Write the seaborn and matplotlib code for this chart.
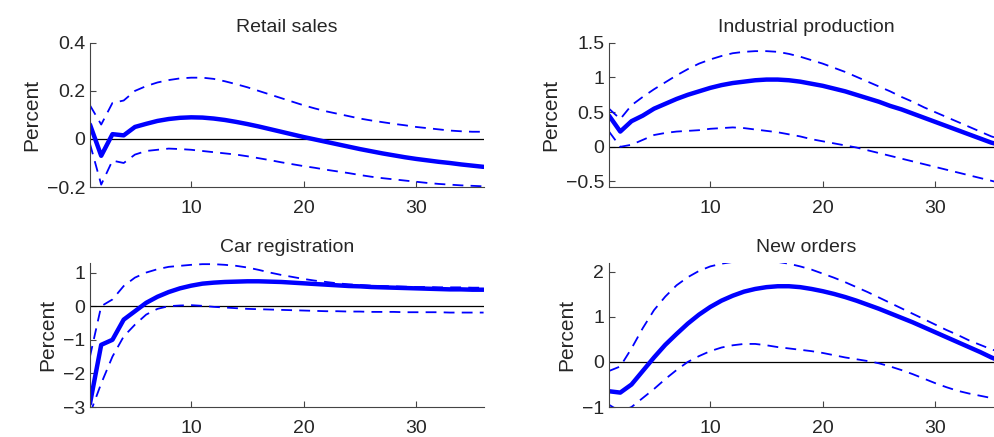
import numpy as np
import pandas as pd
import seaborn as sns
import matplotlib
matplotlib.use('Agg')
import matplotlib.pyplot as plt

horizon = list(range(1, 37))

retail_mid = [0.06, -0.07, 0.02, 0.015, 0.05, 0.063, 0.075, 0.083, 0.088, 0.09, 0.089, 0.085,
              0.079, 0.071, 0.062, 0.052, 0.041, 0.03, 0.019, 0.008, -0.002, -0.012, -0.022, -0.032,
              -0.042, -0.051, -0.06, -0.068, -0.076, -0.083, -0.089, -0.095, -0.1, -0.106, -0.111, -0.116]
retail_hi = [0.14, 0.06, 0.15, 0.16, 0.2, 0.22, 0.235, 0.245, 0.252, 0.255, 0.255, 0.25,
             0.24, 0.228, 0.215, 0.2, 0.185, 0.17, 0.155, 0.14, 0.127, 0.115, 0.105, 0.095,
             0.085, 0.077, 0.07, 0.063, 0.057, 0.05, 0.045, 0.04, 0.035, 0.032, 0.03, 0.03]
retail_lo = [-0.02, -0.19, -0.09, -0.1, -0.065, -0.05, -0.045, -0.04, -0.042, -0.045, -0.05, -0.055,
             -0.06, -0.065, -0.072, -0.08, -0.088, -0.097, -0.105, -0.113, -0.12, -0.128, -0.135, -0.142,
             -0.15, -0.157, -0.163, -0.168, -0.173, -0.178, -0.183, -0.187, -0.19, -0.193, -0.195, -0.197]

ind_mid = [0.45, 0.22, 0.37, 0.45, 0.55, 0.62, 0.69, 0.75, 0.8, 0.85, 0.89, 0.92, 0.94, 0.96, 0.97,
           0.97, 0.96, 0.94, 0.91, 0.88, 0.84, 0.8, 0.75, 0.7, 0.65, 0.59, 0.54, 0.48, 0.42, 0.36,
           0.3, 0.24, 0.18, 0.12, 0.06, 0.02]
ind_hi = [0.55, 0.4, 0.6, 0.72, 0.83, 0.93, 1.03, 1.12, 1.2, 1.26, 1.31, 1.35, 1.37, 1.38, 1.38,
          1.37, 1.34, 1.3, 1.25, 1.2, 1.14, 1.08, 1.01, 0.94, 0.87, 0.8, 0.72, 0.65, 0.57, 0.5,
          0.43, 0.36, 0.29, 0.22, 0.15, 0.1]
ind_lo = [0.22, 0.0, 0.03, 0.1, 0.17, 0.2, 0.22, 0.23, 0.24, 0.26, 0.27, 0.28, 0.27, 0.25, 0.23,
          0.21, 0.18, 0.15, 0.11, 0.08, 0.05, 0.02, -0.01, -0.05, -0.09, -0.13, -0.17, -0.21, -0.25,
          -0.29, -0.33, -0.37, -0.41, -0.45, -0.49, -0.53]

car_mid = [-2.9, -1.15, -1.0, -0.4, -0.15, 0.1, 0.28, 0.42, 0.53, 0.61, 0.67, 0.7, 0.72, 0.73, 0.74,
           0.74, 0.73, 0.72, 0.7, 0.68, 0.66, 0.64, 0.62, 0.6, 0.59, 0.57, 0.56, 0.55, 0.54, 0.53,
           0.52, 0.51, 0.5, 0.5, 0.49, 0.49]
car_hi = [-1.5, 0.0, 0.2, 0.6, 0.85, 1.0, 1.1, 1.17, 1.2, 1.23, 1.25, 1.25, 1.23, 1.2, 1.15, 1.08,
          1.0, 0.93, 0.87, 0.81, 0.76, 0.72, 0.68, 0.65, 0.63, 0.61, 0.6, 0.59, 0.58, 0.57, 0.57,
          0.56, 0.56, 0.56, 0.55, 0.55]
car_lo = [-3.2, -2.3, -1.5, -0.9, -0.55, -0.25, -0.08, 0.0, 0.02, 0.03, 0.01, -0.02, -0.04, -0.06,
          -0.08, -0.09, -0.1, -0.11, -0.12, -0.13, -0.14, -0.15, -0.15, -0.16, -0.16, -0.17, -0.17,
          -0.17, -0.18, -0.18, -0.18, -0.18, -0.19, -0.19, -0.19, -0.19]

ord_mid = [-0.65, -0.68, -0.5, -0.2, 0.1, 0.38, 0.62, 0.85, 1.05, 1.22, 1.36, 1.47, 1.56, 1.62, 1.66,
           1.68, 1.68, 1.66, 1.62, 1.57, 1.51, 1.44, 1.36, 1.27, 1.18, 1.08, 0.98, 0.88, 0.77, 0.66,
           0.55, 0.44, 0.33, 0.22, 0.1, 0.0]
ord_hi = [-0.2, -0.1, 0.3, 0.75, 1.15, 1.45, 1.7, 1.88, 2.02, 2.12, 2.18, 2.22, 2.24, 2.25, 2.24,
          2.22, 2.18, 2.12, 2.05, 1.96, 1.87, 1.77, 1.66, 1.55, 1.43, 1.31, 1.19, 1.07, 0.95, 0.83,
          0.71, 0.6, 0.48, 0.38, 0.28, 0.2]
ord_lo = [-0.95, -1.1, -1.0, -0.8, -0.6, -0.38, -0.18, 0.0, 0.13, 0.24, 0.32, 0.37, 0.4, 0.4, 0.37,
          0.33, 0.3, 0.27, 0.24, 0.2, 0.15, 0.1, 0.06, 0.02, -0.03, -0.1, -0.18, -0.27, -0.37, -0.47,
          -0.56, -0.64, -0.7, -0.75, -0.8, -0.85]

panels = [
    ("Retail sales", retail_mid, retail_hi, retail_lo, (-0.2, 0.4), [-0.2, 0, 0.2, 0.4], ["\u22120.2", "0", "0.2", "0.4"]),
    ("Industrial production", ind_mid, ind_hi, ind_lo, (-0.58, 1.5), [-0.5, 0, 0.5, 1, 1.5], ["\u22120.5", "0", "0.5", "1", "1.5"]),
    ("Car registration", car_mid, car_hi, car_lo, (-3, 1.29), [-3, -2, -1, 0, 1], ["\u22123", "\u22122", "\u22121", "0", "1"]),
    ("New orders", ord_mid, ord_hi, ord_lo, (-1, 2.2), [-1, 0, 1, 2], ["\u22121", "0", "1", "2"]),
]

sns.set_style("white")
plt.rcParams['font.family'] = ['Liberation Sans', 'DejaVu Sans']

fig = plt.figure(figsize=(9.94, 4.37), dpi=100)
rects = [(0.0905, 0.572, 0.396, 0.33), (0.6127, 0.572, 0.396, 0.33),
         (0.0905, 0.0686, 0.396, 0.33), (0.6127, 0.0686, 0.396, 0.33)]

for rect, (title, mid, hi, lo, ylim, yt, ytl) in zip(rects, panels):
    ax = fig.add_axes(rect)
    df = pd.DataFrame({"h": horizon, "mid": mid, "hi": hi, "lo": lo})
    ax.axhline(0, color="black", lw=0.9, zorder=1)
    sns.lineplot(data=df, x="h", y="hi", ax=ax, color="blue", lw=1.3, linestyle=(0, (6, 4)))
    sns.lineplot(data=df, x="h", y="lo", ax=ax, color="blue", lw=1.3, linestyle=(0, (6, 4)))
    sns.lineplot(data=df, x="h", y="mid", ax=ax, color="blue", lw=3.2)
    ax.set_xlim(1, 36)
    ax.set_ylim(*ylim)
    ax.set_xticks([10, 20, 30])
    ax.set_yticks(yt)
    ax.set_yticklabels(ytl)
    ax.set_xlabel("")
    ax.set_ylabel("Percent", fontsize=15)
    ax.set_title(title, fontsize=14, pad=8)
    ax.tick_params(direction="in", labelsize=14, length=4, color="#444444", bottom=True, left=True)
    ax.tick_params(axis="x", pad=9)
    for s in ["top", "right"]:
        ax.spines[s].set_visible(False)
    for s in ["left", "bottom"]:
        ax.spines[s].set_color("#444444")
        ax.spines[s].set_linewidth(0.8)

fig.savefig("out.png", dpi=100)
